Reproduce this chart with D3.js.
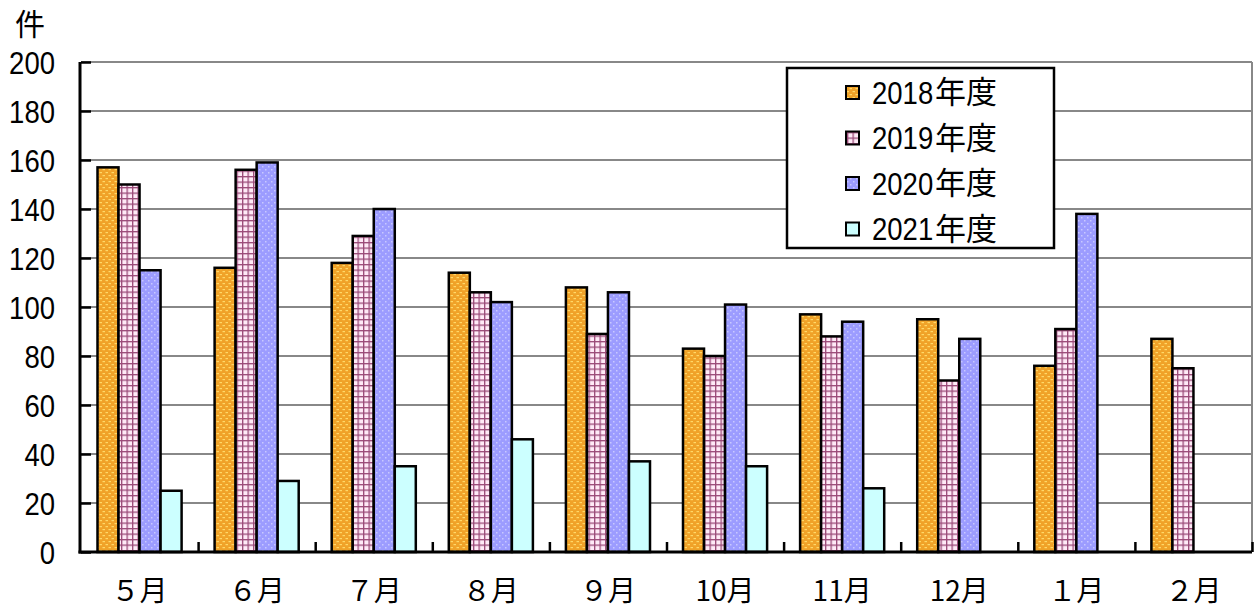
<!DOCTYPE html>
<html><head><meta charset="utf-8">
<script src="https://cdn.jsdelivr.net/npm/d3@7/dist/d3.min.js"></script>
<style>
body{margin:0;background:#fff;}
text{font-family:"Liberation Sans",sans-serif;}
.cjk{font-family:"Noto Sans CJK JP",sans-serif;}
</style></head>
<body><svg id="c" width="1254" height="611"></svg>
<script>
const categories = ["５月","６月","７月","８月","９月","10月","11月","12月","１月","２月"];
const seriesNames = ["2018年度","2019年度","2020年度","2021年度"];
const v2018 = [157,116,118,114,108,83,97,95,76,87];
const v2019 = [150,156,129,106,89,80,88,70,91,75];
const v2020 = [115,159,140,102,106,101,94,87,138,null];
const v2021 = [25,29,35,46,37,35,26,null,null,null];
const yTicks = [0,20,40,60,80,100,120,140,160,180,200];
const yUnit = "件";

const series = [v2018,v2019,v2020,v2021];
const svg = d3.select("#c");
const L=81, R=1252, T=62, B=552;
const defs = svg.append("defs");

// patterns
const p0 = defs.append("pattern").attr("id","pat0").attr("patternUnits","userSpaceOnUse").attr("width",6).attr("height",6);
p0.append("rect").attr("width",6).attr("height",6).attr("fill","#F0A228");
p0.append("rect").attr("x",0.5).attr("y",1).attr("width",2.5).attr("height",1.2).attr("fill","#FFD868");
p0.append("rect").attr("x",3.5).attr("y",4).attr("width",2.5).attr("height",1.2).attr("fill","#FFD868");

const p1 = defs.append("pattern").attr("id","pat1").attr("patternUnits","userSpaceOnUse").attr("width",5.5).attr("height",5.5);
p1.append("rect").attr("width",5.5).attr("height",5.5).attr("fill","#FFEAF7");
p1.append("rect").attr("x",0).attr("y",0).attr("width",1.3).attr("height",5.5).attr("fill","#9A4A78");
p1.append("rect").attr("x",0).attr("y",0).attr("width",5.5).attr("height",1.3).attr("fill","#9A4A78");

const p2 = defs.append("pattern").attr("id","pat2").attr("patternUnits","userSpaceOnUse").attr("width",6).attr("height",6);
p2.append("rect").attr("width",6).attr("height",6).attr("fill","#9C9CFF");
p2.append("rect").attr("x",1).attr("y",1).attr("width",1.5).attr("height",1.5).attr("fill","#C8C8FF");
p2.append("rect").attr("x",4).attr("y",4).attr("width",1.5).attr("height",1.5).attr("fill","#C8C8FF");

const fills = ["url(#pat0)","url(#pat1)","url(#pat2)","#CCFFFF"];

const x = d3.scaleBand().domain(categories).range([L,R]).paddingInner(0).paddingOuter(0);
const y = d3.scaleLinear().domain([0,200]).range([B,T]);
const xs = d3.scaleBand().domain(d3.range(4)).range([16.5, x.bandwidth()-16.5]);

// gridlines
svg.append("g").selectAll("line").data(yTicks.filter(d=>d>0)).join("line")
  .attr("x1",L).attr("x2",R).attr("y1",d=>y(d)).attr("y2",d=>y(d))
  .attr("stroke","#888").attr("stroke-width",2);
svg.append("line").attr("x1",R).attr("x2",R).attr("y1",T).attr("y2",B).attr("stroke","#888").attr("stroke-width",2);

// bars
categories.forEach((c,i)=>{
  series.forEach((s,k)=>{
    if(s[i]==null) return;
    svg.append("rect")
      .attr("x",x(c)+xs(k)).attr("y",y(s[i]))
      .attr("width",xs.bandwidth()).attr("height",B-y(s[i]))
      .attr("fill",fills[k]).attr("stroke","#000").attr("stroke-width",2.5);
  });
});

// y axis
const ya = svg.append("g").attr("transform",`translate(${L},0)`)
  .call(d3.axisRight(y).tickValues(yTicks).tickSize(10).tickFormat(""));
ya.select(".domain").remove();
ya.selectAll("line").attr("stroke","#000").attr("stroke-width",2.5);
svg.append("g").selectAll("text").data(yTicks).join("text")
  .attr("transform",d=>`translate(55,${y(d)}) scale(0.86,1)`)
  .attr("dy","0.36em").attr("text-anchor","end")
  .attr("font-size",32).attr("fill","#000").text(d=>d);
svg.append("line").attr("x1",L-1).attr("x2",L-1).attr("y1",T).attr("y2",B+1.5).attr("stroke","#000").attr("stroke-width",3);

// x axis
const xa = svg.append("g").attr("transform",`translate(0,${B})`)
  .call(d3.axisTop(d3.scaleLinear().domain([0,10]).range([L,R])).tickValues(d3.range(1,11)).tickSize(10).tickFormat(""));
xa.select(".domain").remove();
xa.selectAll("line").attr("stroke","#000").attr("stroke-width",2.5);
svg.append("line").attr("x1",L-2.5).attr("x2",R).attr("y1",B).attr("y2",B).attr("stroke","#000").attr("stroke-width",3);
svg.append("g").selectAll("text").data(categories).join("text")
  .attr("class","cjk")
  .attr("x",d=>x(d)+x.bandwidth()/2).attr("y",601).attr("text-anchor","middle")
  .attr("font-size",28).attr("fill","#000").text(d=>d);

svg.append("text").attr("class","cjk").attr("x",30).attr("y",35).attr("text-anchor","middle")
  .attr("font-size",30).attr("fill","#000").text(yUnit);

// legend
const lg = svg.append("g");
lg.append("rect").attr("x",787).attr("y",68).attr("width",267).attr("height",180)
  .attr("fill","#fff").attr("stroke","#000").attr("stroke-width",2.5);
seriesNames.forEach((n,k)=>{
  const cy = 92 + k*45.5;
  lg.append("rect").attr("x",846).attr("y",cy-6).attr("width",13).attr("height",13)
    .attr("fill",fills[k]).attr("stroke","#000").attr("stroke-width",2);
  lg.append("text").attr("transform",`translate(872,${cy}) scale(0.86,1)`)
    .attr("dy","0.36em").attr("font-size",32).attr("fill","#000").text(n.slice(0,4));
  lg.append("text").attr("class","cjk").attr("x",935).attr("y",cy).attr("dy","0.36em")
    .attr("font-size",31).attr("fill","#000").text(n.slice(4));
});
</script></body></html>
